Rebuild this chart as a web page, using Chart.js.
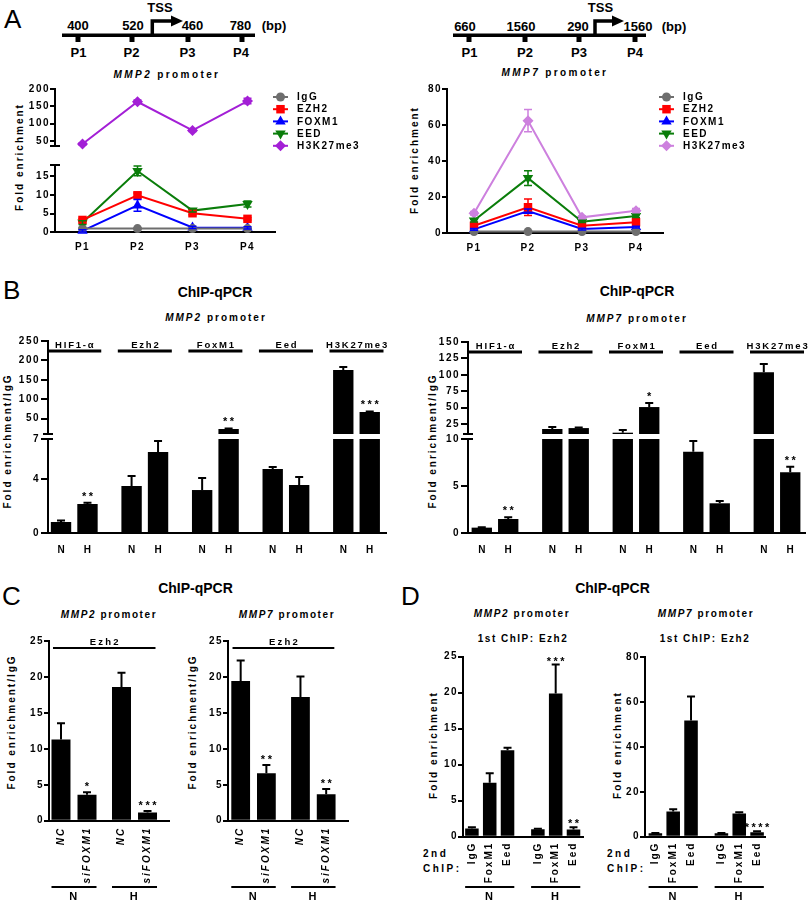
<!DOCTYPE html>
<html lang="en">
<head>
<meta charset="utf-8">
<title>ChIP-qPCR at the MMP2 and MMP7 promoters</title>
<script src="https://cdn.jsdelivr.net/npm/chart.js@4.4.1/dist/chart.umd.min.js"></script>
<style>
  html, body { margin: 0; padding: 0; background: #fff; }
  #fig { position: relative; width: 810px; height: 905px; overflow: hidden; background: #fff; }
  #fig svg, #fig canvas { position: absolute; left: 0; top: 0; }
</style>
</head>
<body>
<div id="fig">
<svg width="810" height="905" font-family="Liberation Sans, Arial, sans-serif" fill="#000">
  <!-- panel letters -->
  <g font-size="26">
    <text x="4" y="28">A</text>
    <text x="3" y="299">B</text>
    <text x="2" y="605">C</text>
    <text x="401" y="605">D</text>
  </g>

  <!-- promoter maps (panel A) -->
  <g stroke="#000" stroke-width="3.5" fill="none">
    <line x1="62" y1="35.3" x2="255" y2="35.3"/>
    <polyline points="152.3,35 152.3,21 173,21"/>
    <line x1="453" y1="35.3" x2="646" y2="35.3"/>
    <polyline points="595,35 595,21 614,21"/>
  </g>
  <polygon points="171,15.5 183,21 171,26.5"/>
  <polygon points="612,15.5 624,21 612,26.5"/>
  <g>
    <rect x="75.5" y="37" width="5" height="5"/><rect x="129.5" y="37" width="5" height="5"/>
    <rect x="185.5" y="37" width="5" height="5"/><rect x="239.5" y="37" width="5" height="5"/>
    <rect x="466.5" y="37" width="5" height="5"/><rect x="522.5" y="37" width="5" height="5"/>
    <rect x="576.5" y="37" width="5" height="5"/><rect x="632.5" y="37" width="5" height="5"/>
  </g>
  <g font-size="13" font-weight="bold" text-anchor="middle">
    <text x="78" y="30">400</text><text x="133" y="30">520</text>
    <text x="192.5" y="30">460</text><text x="240.5" y="30">780</text><text x="274" y="30">(bp)</text>
    <text x="160" y="11.5">TSS</text>
    <text x="78.5" y="57">P1</text><text x="131.5" y="57">P2</text>
    <text x="187.5" y="57">P3</text><text x="241" y="57">P4</text>
    <text x="465" y="30.5">660</text><text x="521" y="30.5">1560</text>
    <text x="578" y="30.5">290</text><text x="638" y="30.5">1560</text><text x="674" y="30.5">(bp)</text>
    <text x="600.5" y="11.5">TSS</text>
    <text x="469.5" y="57">P1</text><text x="525" y="57">P2</text>
    <text x="579" y="57">P3</text><text x="635" y="57">P4</text>
  </g>

  <!-- ChIP-qPCR headings -->
  <g font-size="14" font-weight="bold" text-anchor="middle">
    <text x="215" y="297">ChIP-qPCR</text>
    <text x="637" y="296">ChIP-qPCR</text>
    <text x="195.5" y="593">ChIP-qPCR</text>
    <text x="612.5" y="593">ChIP-qPCR</text>
  </g>

  <!-- promoter subtitles -->
  <g font-size="10" font-weight="bold" text-anchor="middle">
    <text x="167" y="78" letter-spacing="2.4"><tspan font-style="italic">MMP2</tspan> promoter</text>
    <text x="555" y="76" letter-spacing="2.4"><tspan font-style="italic">MMP7</tspan> promoter</text>
    <text x="216" y="321" letter-spacing="2"><tspan font-style="italic">MMP2</tspan> promoter</text>
    <text x="637" y="322" letter-spacing="2"><tspan font-style="italic">MMP7</tspan> promoter</text>
    <text x="109" y="618" letter-spacing="1.6"><tspan font-style="italic">MMP2</tspan> promoter</text>
    <text x="287" y="618" letter-spacing="1.6"><tspan font-style="italic">MMP7</tspan> promoter</text>
    <text x="522" y="617" letter-spacing="1.6"><tspan font-style="italic">MMP2</tspan> promoter</text>
    <text x="706" y="617" letter-spacing="1.6"><tspan font-style="italic">MMP7</tspan> promoter</text>
    <text x="523" y="642" letter-spacing="1.5">1st ChIP: Ezh2</text>
    <text x="705" y="642" letter-spacing="1.5">1st ChIP: Ezh2</text>
  </g>

  <!-- y-axis titles -->
  <g font-size="10" font-weight="bold" text-anchor="middle" dominant-baseline="central" letter-spacing="2">
    <text transform="translate(19,157) rotate(-90)">Fold enrichment</text>
    <text transform="translate(414,160) rotate(-90)">Fold enrichment</text>
    <text transform="translate(7,441) rotate(-90)">Fold enrichment/IgG</text>
    <text transform="translate(432,441) rotate(-90)">Fold enrichment/IgG</text>
    <text transform="translate(11,722) rotate(-90)">Fold enrichment/IgG</text>
    <text transform="translate(192,722) rotate(-90)">Fold enrichment/IgG</text>
    <text transform="translate(433,745) rotate(-90)">Fold enrichment</text>
    <text transform="translate(617,745) rotate(-90)">Fold enrichment</text>
  </g>

  <g font-size="10" font-weight="bold" letter-spacing="2.5">
    <text x="423" y="857">2nd</text><text x="423" y="872">ChIP:</text>
    <text x="607" y="857">2nd</text><text x="607" y="872">ChIP:</text>
  </g>
</svg>
</div>

<script>
const FONT = "'Liberation Sans', Arial, sans-serif";
const TICK_FONT = { family: FONT, size: 10, weight: 'bold' };

// ---- A: ChIP scan along the promoters
const SITES = ['P1', 'P2', 'P3', 'P4'];
const MARKS = ['IgG', 'EZH2', 'FOXM1', 'EED', 'H3K27me3'];

const A2_IGG = [1.0, 1.0, 1.0, 1.0];
const A2_EZH2 = [3.3, 9.9, 5.1, 3.6];
const A2_FOXM1 = [0.4, 7.2, 1.3, 1.2];
const A2_EED = [2.6, 16.4, 5.8, 7.6];
const A2_H3K = [41, 163, 80, 165];
const A2_IGG_SD = [0.1, 0.1, 0.1, 0.1];
const A2_EZH2_SD = [0.4, 0.6, 0.4, 0.3];
const A2_FOXM1_SD = [0.3, 1.6, 0.3, 0.3];
const A2_EED_SD = [0.5, 1.3, 0.4, 0.8];
const A2_H3K_SD = [3, 5, 3, 8];
const A2_UPPER = ['H3K27me3']; // marks that sit above the axis break
const A2_UPPER_TICKS = [50, 100, 150, 200];
const A2_LOWER_TICKS = [0, 5, 10, 15];

const A7_IGG = [0.8, 0.8, 0.8, 0.8];
const A7_EZH2 = [4.0, 14.3, 4.0, 6.0];
const A7_FOXM1 = [2.0, 12.2, 2.2, 3.3];
const A7_EED = [6.9, 30.5, 6.3, 9.4];
const A7_H3K = [11.0, 62.4, 8.7, 12.4];
const A7_IGG_SD = [0.1, 0.1, 0.1, 0.1];
const A7_EZH2_SD = [0.8, 4.6, 0.6, 1.0];
const A7_FOXM1_SD = [0.5, 1.2, 0.5, 0.5];
const A7_EED_SD = [0.8, 4.1, 0.5, 0.8];
const A7_H3K_SD = [1.0, 6.2, 0.8, 1.2];
const A7_TICKS = [0, 20, 40, 60, 80];

// ---- B: normoxia (N) vs hypoxia (H)
const B_ANTIBODIES = ['HIF1-α', 'Ezh2', 'FoxM1', 'Eed', 'H3K27me3'];
const B_CONDITIONS = ['N', 'H'];

const B2_N = [0.82, 3.5, 3.2, 4.77, 175];
const B2_N_SD = [0.12, 0.74, 0.9, 0.15, 8];
const B2_H = [2.16, 6.03, 22.9, 3.57, 66.8];
const B2_H_SD = [0.1, 0.82, 1.5, 0.6, 1.5];
const B2_H_SIG = ['**', '', '**', '', '***'];
const B2_UPPER_TICKS = [50, 100, 150, 200, 250];
const B2_LOWER_TICKS = [0, 4, 7];

const B7_N = [0.57, 17.6, 12, 8.65, 104];
const B7_N_SD = [0.05, 3, 4, 1.15, 12.5];
const B7_H = [1.49, 19, 51, 3.16, 6.46];
const B7_H_SD = [0.18, 1, 6, 0.25, 0.6];
const B7_H_SIG = ['**', '', '*', '', '**'];
const B7_UPPER_TICKS = [25, 50, 75, 100, 125, 150];
const B7_LOWER_TICKS = [0, 5, 10];

// ---- C: Ezh2 ChIP after FOXM1 knock-down
const C_CONDITIONS = ['N', 'H'];
const C_TREATMENTS = ['NC', 'siFOXM1'];
const C_ANTIBODY = 'Ezh2';
const C2_NC = [11.3, 18.6];
const C2_NC_SD = [2.25, 2.0];
const C2_SI = [3.6, 1.15];
const C2_SI_SD = [0.35, 0.2];
const C2_SI_SIG = ['*', '***'];
const C7_NC = [19.45, 17.2];
const C7_NC_SD = [2.85, 2.85];
const C7_SI = [6.6, 3.67];
const C7_SI_SD = [1.15, 0.73];
const C7_SI_SIG = ['**', '**'];
const C_TICKS = [0, 5, 10, 15, 20, 25];

// ---- D: re-ChIP (1st ChIP Ezh2)
const D_CONDITIONS = ['N', 'H'];
const D_SECOND = ['IgG', 'FoxM1', 'Eed'];
const D2_IGG = [1.15, 1.05];
const D2_IGG_SD = [0.15, 0.05];
const D2_FOXM1 = [7.5, 19.9];
const D2_FOXM1_SD = [1.3, 4.0];
const D2_FOXM1_SIG = ['', '***'];
const D2_EED = [12.0, 1.0];
const D2_EED_SD = [0.35, 0.3];
const D2_EED_SIG = ['', '**'];
const D2_TICKS = [0, 5, 10, 15, 20, 25];
const D7_IGG = [1.5, 1.5];
const D7_IGG_SD = [0.2, 0.1];
const D7_FOXM1 = [11.2, 10.4];
const D7_FOXM1_SD = [1.0, 0.5];
const D7_EED = [51.8, 1.96];
const D7_EED_SD = [10.7, 0.5];
const D7_EED_SIG = ['', '****'];
const D7_TICKS = [0, 20, 40, 60, 80];

// marker look of each ChIP mark in panel A
const MARK_STYLE = [
  { color: '#6E6E6E', pointStyle: 'circle', pointRadius: 4.5 },
  { color: '#FF0000', pointStyle: 'rect', pointRadius: 6 },
  { color: '#0000FF', pointStyle: 'triangle', pointRadius: 6 },
  { color: '#0A7D0A', pointStyle: 'triangle', pointRadius: 6, rotation: 180 },
  { color: '#A31FD6', pointStyle: 'rectRot', pointRadius: 5.5 },
];
const H3K_LIGHT = '#CD80DE';

Chart.defaults.font.family = FONT;
Chart.defaults.color = '#000';

const YW = 40;
const fig = document.getElementById('fig');

// error bars, stars, group headers, bar labels, axis breaks and the custom legend
const deco = {
  id: 'deco',
  beforeLayout(chart) { chart.ctx.letterSpacing = '1.5px'; },
  beforeDraw(chart) { chart.ctx.letterSpacing = '1.5px'; },
  afterDatasetsDraw(chart) {
    const o = chart.canvas.deco;
    if (!o) return;
    const { ctx, chartArea: a } = chart;
    const ys = chart.scales.y;
    const over = o.errOverflow || 0;
    ctx.save();
    ctx.beginPath();
    ctx.rect(a.left - 10, a.top - over, a.right - a.left + 20, a.bottom - a.top + 2 * over);
    ctx.clip();
    ctx.lineWidth = o.errWidth || 2;
    chart.data.datasets.forEach((ds, d) => {
      if (!ds.err) return;
      ctx.strokeStyle = ds.borderColor || '#000';
      chart.getDatasetMeta(d).data.forEach((el, i) => {
        const e = ds.err[i];
        const v = ds.data[i];
        if (!e) return;
        // whisker entirely on the other side of an axis break: nothing to draw here
        if (v + e < ys.min || (o.twoSided ? v - e : v) > ys.max) return;
        const top = ys.getPixelForValue(v + e);
        const bot = ys.getPixelForValue(o.twoSided ? v - e : v);
        const c = (o.cap || 8) / 2;
        ctx.beginPath();
        ctx.moveTo(el.x, bot);
        ctx.lineTo(el.x, top);
        ctx.moveTo(el.x - c, top);
        ctx.lineTo(el.x + c, top);
        if (o.twoSided) {
          ctx.moveTo(el.x - c, bot);
          ctx.lineTo(el.x + c, bot);
        }
        ctx.stroke();
      });
    });
    ctx.restore();
  },
  afterDraw(chart) {
    const o = chart.canvas.deco;
    if (!o) return;
    const { ctx, chartArea: a } = chart;
    const xs = chart.scales.x;
    const ys = chart.scales.y;
    ctx.save();
    ctx.fillStyle = '#000';
    ctx.strokeStyle = '#000';

    if (o.breakAt) {
      const yb = o.breakAt === 'top' ? a.top : a.bottom;
      ctx.lineWidth = 2;
      ctx.beginPath();
      ctx.moveTo(a.left - 5, yb);
      ctx.lineTo(a.left + 5, yb);
      ctx.stroke();
    }

    if (o.headers) {
      const h = o.headers;
      ctx.font = `bold ${h.size}px ${FONT}`;
      ctx.letterSpacing = h.spacing;
      ctx.textAlign = 'center';
      ctx.textBaseline = 'alphabetic';
      ctx.lineWidth = h.lineWidth;
      h.items.forEach((it) => {
        const x0 = xs.getPixelForValue(it.from) - h.half;
        const x1 = xs.getPixelForValue(it.to) + h.half;
        ctx.fillText(it.text, (x0 + x1) / 2 + 1, a.top + h.textY);
        ctx.beginPath();
        ctx.moveTo(x0, a.top + h.lineY);
        ctx.lineTo(x1, a.top + h.lineY);
        ctx.stroke();
      });
    }

    ctx.font = `bold 11px ${FONT}`;
    ctx.letterSpacing = '2.5px';
    ctx.textAlign = 'center';
    ctx.textBaseline = 'alphabetic';
    chart.data.datasets.forEach((ds, d) => {
      if (!ds.stars) return;
      chart.getDatasetMeta(d).data.forEach((el, i) => {
        const s = ds.stars[i];
        if (!s) return;
        const yy = ys.getPixelForValue(ds.data[i] + (ds.err ? ds.err[i] : 0));
        if (yy < a.top - 1 || yy > a.bottom) return;
        ctx.fillText(s, el.x + 1.25, yy - (o.starGap || 0));
      });
    });

    if (o.barLabels) {
      const bl = o.barLabels;
      ctx.font = `${bl.italic ? 'italic ' : ''}bold 10px ${FONT}`;
      ctx.letterSpacing = '2px';
      chart.data.datasets.forEach((ds, d) => {
        chart.getDatasetMeta(d).data.forEach((el) => {
          if (bl.rotate) {
            ctx.save();
            ctx.translate(el.x, a.bottom + bl.offset);
            ctx.rotate(-Math.PI / 2);
            ctx.textAlign = 'right';
            ctx.textBaseline = 'middle';
            ctx.fillText(ds.label, 0, 0);
            ctx.restore();
          } else {
            ctx.textAlign = 'center';
            ctx.textBaseline = 'middle';
            ctx.fillText(ds.label, el.x + 1, a.bottom + bl.offset);
          }
        });
      });
    }

    if (o.underline) {
      ctx.lineWidth = 2;
      chart.data.labels.forEach((_, i) => {
        let l = Infinity;
        let r = -Infinity;
        chart.data.datasets.forEach((ds, d) => {
          const el = chart.getDatasetMeta(d).data[i];
          l = Math.min(l, el.x - el.width / 2);
          r = Math.max(r, el.x + el.width / 2);
        });
        ctx.beginPath();
        ctx.moveTo(l, a.bottom + o.underline);
        ctx.lineTo(r, a.bottom + o.underline);
        ctx.stroke();
      });
    }

    if (o.legend) {
      const L = o.legend;
      ctx.font = `bold 10px ${FONT}`;
      ctx.letterSpacing = '1.5px';
      ctx.textAlign = 'left';
      ctx.textBaseline = 'middle';
      L.items.forEach((s, k) => {
        const lx = L.x - o.ox;
        const ly = L.y + k * L.dy - o.oy;
        ctx.strokeStyle = s.borderColor;
        ctx.lineWidth = 2;
        ctx.beginPath();
        ctx.moveTo(lx, ly);
        ctx.lineTo(lx + 15, ly);
        ctx.stroke();
        ctx.fillStyle = s.borderColor;
        if (Chart.helpers && Chart.helpers.drawPoint) {
          Chart.helpers.drawPoint(ctx, { pointStyle: s.pointStyle, rotation: s.pointRotation, radius: s.pointRadius, borderWidth: 0 }, lx + 7.5, ly);
        }
        ctx.fillStyle = '#000';
        ctx.fillText(s.label, lx + 24, ly + 0.5);
      });
    }
    ctx.restore();
  },
};
Chart.register(deco);

// canvas placed so that its chart area lands on `area` (page coordinates)
function place(box, area, xh, config, extra) {
  const cv = document.createElement('canvas');
  cv.width = box.w;
  cv.height = box.h;
  cv.style.left = box.x + 'px';
  cv.style.top = box.y + 'px';
  cv.style.width = box.w + 'px';
  cv.style.height = box.h + 'px';
  cv.deco = Object.assign({ ox: box.x, oy: box.y }, extra);
  fig.appendChild(cv);
  const o = config.options;
  o.layout = {
    padding: {
      left: area.l - box.x - YW,
      top: area.t - box.y,
      right: box.x + box.w - area.r,
      bottom: box.y + box.h - area.b - xh,
    },
  };
  o.scales.x.afterFit = (s) => { s.height = xh; };
  o.scales.y.afterFit = (s) => { s.width = YW; };
  return new Chart(cv, config);
}

function base(x, y) {
  return {
    responsive: false,
    animation: false,
    events: [],
    plugins: { legend: { display: false }, tooltip: { enabled: false } },
    scales: { x, y },
  };
}

function yAxis(min, max, ticks, tickLength = 5, padding = 0) {
  return {
    min,
    max,
    afterBuildTicks: (s) => { s.ticks = ticks.map((v) => ({ value: v })); },
    grid: { display: true, drawOnChartArea: false, color: '#000', lineWidth: 2, tickLength },
    border: { display: true, color: '#000', width: 2 },
    ticks: { font: TICK_FONT, color: '#000', padding },
  };
}

function siteAxis(show) {
  return {
    type: 'category',
    offset: true,
    display: show,
    grid: { display: false, drawTicks: false },
    border: { display: true, color: '#000', width: 2 },
    ticks: { font: TICK_FONT, color: '#000', padding: 9 },
  };
}

// linear index axis so the groups can sit off-centre like the original layout;
// the (invisible) tick length pushes the group names below the rotated bar labels
function groupAxis(groups, min, max, show, labels, drop) {
  return {
    type: 'linear',
    min,
    max,
    offset: false,
    display: show,
    afterBuildTicks: (s) => { s.ticks = groups.map((_, i) => ({ value: i })); },
    grid: { display: false, drawTicks: true, tickLength: drop, offset: false },
    border: { display: true, color: '#000', width: 2 },
    ticks: { display: labels, padding: 0, maxRotation: 0, autoSkip: false, font: { family: FONT, size: 11, weight: 'bold' }, color: '#000', callback: (v) => groups[v] },
  };
}

function lineSets(means, sds, lastColor) {
  return MARKS.map((name, k) => {
    const st = MARK_STYLE[k];
    const c = k === MARKS.length - 1 && lastColor ? lastColor : st.color;
    return {
      label: name, data: means[k], err: sds[k],
      borderColor: c, backgroundColor: c, pointBackgroundColor: c, pointBorderColor: c, pointBorderWidth: 0,
      pointStyle: st.pointStyle, pointRadius: st.pointRadius, pointRotation: st.rotation || 0,
      borderWidth: 2, tension: 0, clip: false,
    };
  });
}

function barSets(names, means, sds, sigs, cat, bar) {
  return names.map((name, k) => ({
    label: name, data: means[k], err: sds[k], stars: sigs[k],
    backgroundColor: '#000', borderWidth: 0, categoryPercentage: cat, barPercentage: bar, clip: 0,
  }));
}

// ---------- A, MMP2 (broken axis: two stacked charts)
const a2 = () => lineSets(
  [A2_IGG, A2_EZH2, A2_FOXM1, A2_EED, A2_H3K],
  [A2_IGG_SD, A2_EZH2_SD, A2_FOXM1_SD, A2_EED_SD, A2_H3K_SD], null);
const lineDeco = { twoSided: true, errWidth: 1.5, cap: 8, errOverflow: 10 };

place({ x: 0, y: 80, w: 380, h: 75 }, { l: 55, t: 89, r: 275, b: 146 }, 0, {
  type: 'line',
  data: { labels: SITES, datasets: a2().filter((s) => A2_UPPER.includes(s.label)) },
  options: base(siteAxis(false), yAxis(35, 200, A2_UPPER_TICKS)),
}, Object.assign({ breakAt: 'bottom', legend: { items: a2(), x: 273, y: 97, dy: 12.2 } }, lineDeco));

place({ x: 0, y: 155, w: 380, h: 100 }, { l: 55, t: 165, r: 275, b: 232.3 }, 20, {
  type: 'line',
  data: { labels: SITES, datasets: a2().filter((s) => !A2_UPPER.includes(s.label)) },
  options: base(siteAxis(true), yAxis(0, 18, A2_LOWER_TICKS)),
}, Object.assign({ breakAt: 'top' }, lineDeco));

// ---------- A, MMP7
const a7 = () => lineSets(
  [A7_IGG, A7_EZH2, A7_FOXM1, A7_EED, A7_H3K],
  [A7_IGG_SD, A7_EZH2_SD, A7_FOXM1_SD, A7_EED_SD, A7_H3K_SD], H3K_LIGHT);

place({ x: 400, y: 80, w: 410, h: 175 }, { l: 447, t: 89, r: 663, b: 233 }, 20, {
  type: 'line',
  data: { labels: SITES, datasets: a7() },
  options: base(siteAxis(true), yAxis(0, 80, A7_TICKS)),
}, Object.assign({ legend: { items: a7(), x: 659, y: 97, dy: 12.2 } }, lineDeco));

// ---------- B (broken axes)
const bHeaders = { items: B_ANTIBODIES.map((t, i) => ({ text: t, from: i, to: i })), half: 27, textY: 7, lineY: 10, lineWidth: 3, size: 9.5, spacing: '1.8px' };
const idx = (arr) => arr.map((_, i) => i);

function panelB(left, right, xmin, xmax, top, means, sds, sigs, upper, upperTicks, lower, lowerTicks) {
  const sets = () => barSets(B_CONDITIONS, means, sds, sigs, 0.75, 0.77);
  place({ x: left - 48, y: 330, w: 400, h: 112 }, { l: left, t: top, r: right, b: 434 }, 0, {
    type: 'bar',
    data: { labels: idx(B_ANTIBODIES), datasets: sets() },
    options: base(groupAxis(B_ANTIBODIES, xmin, xmax, false, false, 0), yAxis(upper[0], upper[1], upperTicks, 7, 1)),
  }, { headers: bHeaders, breakAt: 'bottom', starGap: 3 });
  place({ x: left - 48, y: 429, w: 400, h: 131 }, { l: left, t: 439, r: right, b: 533 }, 20, {
    type: 'bar',
    data: { labels: idx(B_ANTIBODIES), datasets: sets() },
    options: base(groupAxis(B_ANTIBODIES, xmin, xmax, true, false, 0), yAxis(lower[0], lower[1], lowerTicks, 7, 1)),
  }, { barLabels: { offset: 17 }, breakAt: 'top', starGap: 3 });
}

panelB(48, 386, -0.372, 4.418, 341, [B2_N, B2_H], [B2_N_SD, B2_H_SD], [null, B2_H_SIG],
  [10, 250], B2_UPPER_TICKS, [0, 7], B2_LOWER_TICKS);
panelB(468, 805, -0.383, 4.397, 342, [B7_N, B7_H], [B7_N_SD, B7_H_SD], [null, B7_H_SIG],
  [10, 150], B7_UPPER_TICKS, [0, 10], B7_LOWER_TICKS);

// ---------- C
const cHeaders = { items: [{ text: C_ANTIBODY, from: 0, to: 1 }], half: 21, textY: 4, lineY: 7, lineWidth: 2, size: 9.5, spacing: '2.2px' };
function panelC(boxX, l, xmin, xmax, means, sds, sigs) {
  const b = 820.7;
  place({ x: boxX, y: 625, w: 200, h: 280 }, { l, t: 641, r: l + 120, b }, 905 - b, {
    type: 'bar',
    data: { labels: idx(C_CONDITIONS), datasets: barSets(C_TREATMENTS, means, sds, sigs, 0.86, 0.73) },
    options: base(groupAxis(C_CONDITIONS, xmin, xmax, true, true, 897 - b - 6.6), yAxis(0, 25, C_TICKS)),
  }, { headers: cHeaders, barLabels: { offset: 6, rotate: true, italic: true }, underline: 66.3, starGap: 2 });
}
panelC(0, 49, -0.413, 1.57, [C2_NC, C2_SI], [C2_NC_SD, C2_SI_SD], [null, C2_SI_SIG]);
panelC(180, 228, -0.427, 1.58, [C7_NC, C7_SI], [C7_NC_SD, C7_SI_SD], [null, C7_SI_SIG]);

// ---------- D
function panelD(box, area, xmin, xmax, means, sds, sigs, ymax, ticks) {
  place(box, area, 905 - area.b, {
    type: 'bar',
    data: { labels: idx(D_CONDITIONS), datasets: barSets(D_SECOND, means, sds, sigs, 0.81, 0.76) },
    options: base(groupAxis(D_CONDITIONS, xmin, xmax, true, true, 897 - area.b - 6.6), yAxis(0, ymax, ticks)),
  }, { barLabels: { offset: 5, rotate: true }, underline: 50.3, starGap: 0 });
}
panelD({ x: 420, y: 645, w: 175, h: 260 }, { l: 463, t: 656.7, r: 583, b: 836.7 }, -0.405, 1.414,
  [D2_IGG, D2_FOXM1, D2_EED], [D2_IGG_SD, D2_FOXM1_SD, D2_EED_SD], [null, D2_FOXM1_SIG, D2_EED_SIG], 25, D2_TICKS);
panelD({ x: 600, y: 645, w: 210, h: 260 }, { l: 645, t: 657.3, r: 765, b: 836.7 }, -0.427, 1.39,
  [D7_IGG, D7_FOXM1, D7_EED], [D7_IGG_SD, D7_FOXM1_SD, D7_EED_SD], [null, null, D7_EED_SIG], 80, D7_TICKS);
</script>
</body>
</html>
